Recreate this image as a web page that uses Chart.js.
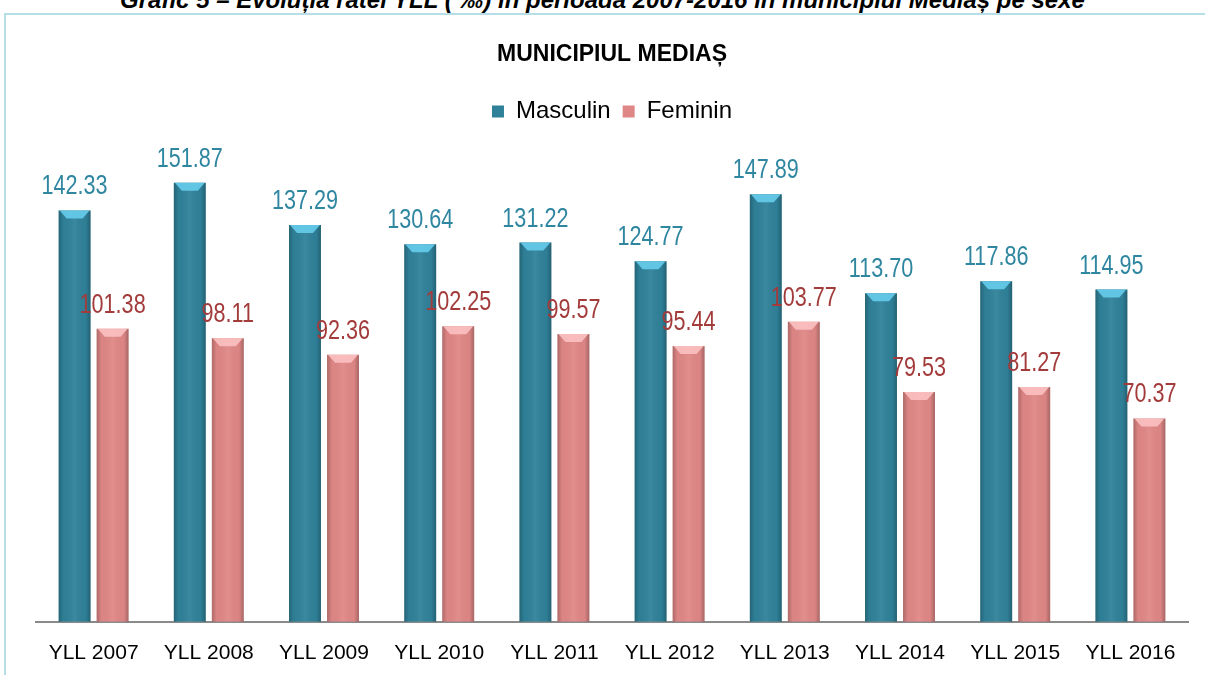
<!DOCTYPE html>
<html>
<head>
<meta charset="utf-8">
<script src="https://cdn.jsdelivr.net/npm/chart.js@4"></script>
<style>
  html, body { margin: 0; padding: 0; background: #fff; overflow: hidden; }
  #wrap { position: relative; width: 1205px; height: 675px; overflow: hidden; }
  #heading {
    position: absolute; left: 0; width: 1205px; top: -14px; text-align: center;
    font: italic bold 24px "Liberation Sans", Arial, sans-serif; color: #000; white-space: nowrap;
  }
  #frame {
    position: absolute; left: 4px; top: 13px; width: 1210px; height: 680px;
    border-top: 2px solid #b7dde8; border-left: 2px solid #b7dde8;
  }
  canvas { position: absolute; left: 0; top: 0; }
</style>
</head>
<body>
<div id="wrap">
  <div id="heading">Grafic 5 – Evoluția ratei YLL ( ‰) în perioada 2007-2016 în municipiul Mediaș pe sexe</div>
  <div id="frame"></div>
  <canvas id="myBarChart" width="1205" height="695"></canvas>
</div>
<script>
// DATA
var years = ['YLL 2007', 'YLL 2008', 'YLL 2009', 'YLL 2010', 'YLL 2011', 'YLL 2012', 'YLL 2013', 'YLL 2014', 'YLL 2015', 'YLL 2016'];
var masculin = [142.33, 151.87, 137.29, 130.64, 131.22, 124.77, 147.89, 113.70, 117.86, 114.95];
var feminin = [101.38, 98.11, 92.36, 102.25, 99.57, 95.44, 103.77, 79.53, 81.27, 70.37];

var FONT = '"Liberation Sans", Arial, sans-serif';

// shading + value labels on top of the bars
var barLook = {
  id: 'barLook',
  afterDatasetsDraw: function(chart) {
    var ctx = chart.ctx;
    var labelColors = ['#2f86a0', '#a33b3b'];
    var bevel = ['rgba(100,200,232,0.95)', 'rgba(250,190,190,0.95)'];
    chart.data.datasets.forEach(function(ds, di) {
      var meta = chart.getDatasetMeta(di);
      meta.data.forEach(function(bar, i) {
        var left = bar.x - bar.width / 2, right = bar.x + bar.width / 2;
        var top = bar.y, bottom = bar.base;
        ctx.save();
        // side shading
        var g = ctx.createLinearGradient(left, 0, right, 0);
        g.addColorStop(0, 'rgba(0,0,0,0.22)');
        g.addColorStop(0.15, 'rgba(0,0,0,0.02)');
        g.addColorStop(0.5, 'rgba(255,255,255,0.06)');
        g.addColorStop(0.85, 'rgba(0,0,0,0.02)');
        g.addColorStop(1, 'rgba(0,0,0,0.25)');
        ctx.fillStyle = g;
        ctx.fillRect(left, top, bar.width, bottom - top);
        // top bevel
        ctx.fillStyle = bevel[di];
        ctx.beginPath();
        ctx.moveTo(left + 1, top);
        ctx.lineTo(right - 1, top);
        ctx.lineTo(right - 8, top + 8);
        ctx.lineTo(left + 8, top + 8);
        ctx.closePath();
        ctx.fill();
        // value label (condensed like the original)
        ctx.fillStyle = labelColors[di];
        ctx.font = '27px ' + FONT;
        ctx.textAlign = 'center';
        ctx.textBaseline = 'alphabetic';
        ctx.translate(bar.x, top - 16);
        ctx.scale(0.8, 1);
        ctx.fillText(ds.data[i].toFixed(2), 0, 0);
        ctx.restore();
      });
    });
  }
};

var ctx = document.getElementById('myBarChart').getContext('2d');
var chart = new Chart(ctx, {
    type: 'bar',
    data: {
        labels: years,
        datasets: [{
            label: 'Masculin',
            backgroundColor: '#2f8199',
            borderWidth: 0,
            data: masculin,
            categoryPercentage: 0.66,
            barPercentage: 0.84
        }, {
            label: 'Feminin',
            backgroundColor: '#df8786',
            borderWidth: 0,
            data: feminin,
            categoryPercentage: 0.66,
            barPercentage: 0.84
        }]
    },
    options: {
        responsive: false,
        animation: false,
        layout: { padding: { left: 36, right: 17, top: 20, bottom: 10 } },
        plugins: {
            title: {
                display: true,
                text: 'MUNICIPIUL MEDIAȘ',
                color: '#000',
                font: { family: FONT, size: 23, weight: 'bold' },
                padding: { top: 21, bottom: 19 }
            },
            legend: {
                display: true,
                labels: {
                    color: '#000',
                    font: { family: FONT, size: 24 },
                    boxWidth: 12,
                    boxHeight: 12,
                    padding: 12
                }
            },
            tooltip: { enabled: false }
        },
        scales: {
            x: {
                grid: { display: false, drawTicks: false },
                border: { display: true, color: '#8a8a8a', width: 2 },
                ticks: { color: '#000', font: { family: FONT, size: 21 }, padding: 19 }
            },
            y: {
                display: false,
                min: 0,
                max: 168.9
            }
        }
    },
    plugins: [barLook]
});
</script>
</body>
</html>
